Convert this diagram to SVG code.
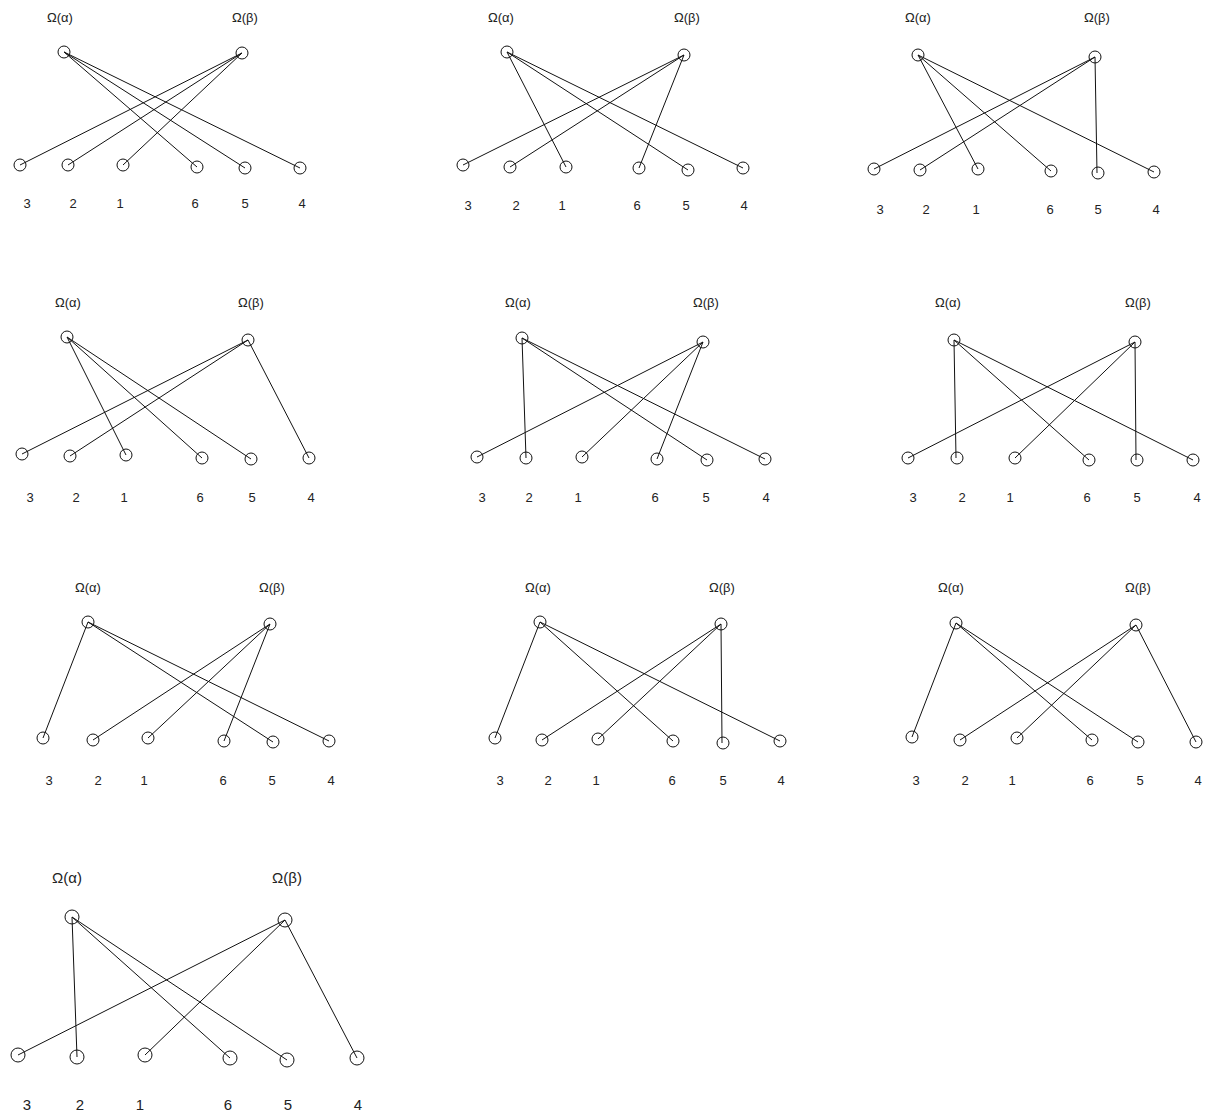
<svg xmlns="http://www.w3.org/2000/svg" width="1206" height="1113" viewBox="0 0 1206 1113">
<style>
.n{fill:none;stroke:#111;stroke-width:1}
.e{stroke:#111;stroke-width:1;fill:none}
.t{font-family:"Liberation Sans",Arial,sans-serif;font-size:13px;fill:#222;text-anchor:middle}
.big .t{font-size:15px}
</style>
<rect width="1206" height="1113" fill="#fff"/>

<!-- Panel 1 -->
<g id="p1">
<g id="p1-edges">
<line class="e" x1="64" y1="52" x2="197" y2="167"/><line class="e" x1="64" y1="52" x2="245" y2="168"/><line class="e" x1="64" y1="52" x2="300" y2="168"/>
<line class="e" x1="242" y1="53" x2="20" y2="165"/><line class="e" x1="242" y1="53" x2="68" y2="165"/><line class="e" x1="242" y1="53" x2="123" y2="165"/>
</g>
<g id="p1-a"><circle class="n" cx="64" cy="52" r="6"/><text class="t" x="60" y="22">Ω(α)</text></g>
<g id="p1-b"><circle class="n" cx="242" cy="53" r="6"/><text class="t" x="245" y="22">Ω(β)</text></g>
<g id="p1-3"><circle class="n" cx="20" cy="165" r="6"/><text class="t" x="27" y="208">3</text></g>
<g id="p1-2"><circle class="n" cx="68" cy="165" r="6"/><text class="t" x="73" y="208">2</text></g>
<g id="p1-1"><circle class="n" cx="123" cy="165" r="6"/><text class="t" x="120" y="208">1</text></g>
<g id="p1-6"><circle class="n" cx="197" cy="167" r="6"/><text class="t" x="195" y="208">6</text></g>
<g id="p1-5"><circle class="n" cx="245" cy="168" r="6"/><text class="t" x="245" y="208">5</text></g>
<g id="p1-4"><circle class="n" cx="300" cy="168" r="6"/><text class="t" x="302" y="208">4</text></g>
</g>

<!-- Panel 2 -->
<g id="p2">
<g id="p2-edges">
<line class="e" x1="507" y1="52" x2="566" y2="167"/><line class="e" x1="507" y1="52" x2="688" y2="170"/><line class="e" x1="507" y1="52" x2="743" y2="168"/>
<line class="e" x1="684" y1="55" x2="463" y2="165"/><line class="e" x1="684" y1="55" x2="510" y2="167"/><line class="e" x1="684" y1="55" x2="639" y2="168"/>
</g>
<g id="p2-a"><circle class="n" cx="507" cy="52" r="6"/><text class="t" x="501" y="22">Ω(α)</text></g>
<g id="p2-b"><circle class="n" cx="684" cy="55" r="6"/><text class="t" x="687" y="22">Ω(β)</text></g>
<g id="p2-3"><circle class="n" cx="463" cy="165" r="6"/><text class="t" x="468" y="210">3</text></g>
<g id="p2-2"><circle class="n" cx="510" cy="167" r="6"/><text class="t" x="516" y="210">2</text></g>
<g id="p2-1"><circle class="n" cx="566" cy="167" r="6"/><text class="t" x="562" y="210">1</text></g>
<g id="p2-6"><circle class="n" cx="639" cy="168" r="6"/><text class="t" x="637" y="210">6</text></g>
<g id="p2-5"><circle class="n" cx="688" cy="170" r="6"/><text class="t" x="686" y="210">5</text></g>
<g id="p2-4"><circle class="n" cx="743" cy="168" r="6"/><text class="t" x="744" y="210">4</text></g>
</g>

<!-- Panel 3 -->
<g id="p3">
<g id="p3-edges">
<line class="e" x1="918" y1="55" x2="978" y2="169"/><line class="e" x1="918" y1="55" x2="1051" y2="171"/><line class="e" x1="918" y1="55" x2="1154" y2="172"/>
<line class="e" x1="1095" y1="57" x2="874" y2="169"/><line class="e" x1="1095" y1="57" x2="920" y2="170"/><line class="e" x1="1095" y1="57" x2="1097" y2="173"/>
</g>
<g id="p3-a"><circle class="n" cx="918" cy="55" r="6"/><text class="t" x="918" y="22">Ω(α)</text></g>
<g id="p3-b"><circle class="n" cx="1095" cy="57" r="6"/><text class="t" x="1097" y="22">Ω(β)</text></g>
<g id="p3-3"><circle class="n" cx="874" cy="169" r="6"/><text class="t" x="880" y="214">3</text></g>
<g id="p3-2"><circle class="n" cx="920" cy="170" r="6"/><text class="t" x="926" y="214">2</text></g>
<g id="p3-1"><circle class="n" cx="978" cy="169" r="6"/><text class="t" x="976" y="214">1</text></g>
<g id="p3-6"><circle class="n" cx="1051" cy="171" r="6"/><text class="t" x="1050" y="214">6</text></g>
<g id="p3-5"><circle class="n" cx="1098" cy="173" r="6"/><text class="t" x="1098" y="214">5</text></g>
<g id="p3-4"><circle class="n" cx="1154" cy="172" r="6"/><text class="t" x="1156" y="214">4</text></g>
</g>

<!-- Panel 4 -->
<g id="p4">
<g id="p4-edges">
<line class="e" x1="67" y1="337" x2="126" y2="455"/><line class="e" x1="67" y1="337" x2="202" y2="458"/><line class="e" x1="67" y1="337" x2="251" y2="459"/>
<line class="e" x1="248" y1="340" x2="22" y2="454"/><line class="e" x1="248" y1="340" x2="70" y2="456"/><line class="e" x1="248" y1="340" x2="309" y2="458"/>
</g>
<g id="p4-a"><circle class="n" cx="67" cy="337" r="6"/><text class="t" x="68" y="307">Ω(α)</text></g>
<g id="p4-b"><circle class="n" cx="248" cy="340" r="6"/><text class="t" x="251" y="307">Ω(β)</text></g>
<g id="p4-3"><circle class="n" cx="22" cy="454" r="6"/><text class="t" x="30" y="502">3</text></g>
<g id="p4-2"><circle class="n" cx="70" cy="456" r="6"/><text class="t" x="76" y="502">2</text></g>
<g id="p4-1"><circle class="n" cx="126" cy="455" r="6"/><text class="t" x="124" y="502">1</text></g>
<g id="p4-6"><circle class="n" cx="202" cy="458" r="6"/><text class="t" x="200" y="502">6</text></g>
<g id="p4-5"><circle class="n" cx="251" cy="459" r="6"/><text class="t" x="252" y="502">5</text></g>
<g id="p4-4"><circle class="n" cx="309" cy="458" r="6"/><text class="t" x="311" y="502">4</text></g>
</g>

<!-- Panel 5 -->
<g id="p5">
<g id="p5-edges">
<line class="e" x1="522" y1="338" x2="526" y2="458"/><line class="e" x1="522" y1="338" x2="707" y2="460"/><line class="e" x1="522" y1="338" x2="765" y2="459"/>
<line class="e" x1="703" y1="342" x2="477" y2="457"/><line class="e" x1="703" y1="342" x2="582" y2="457"/><line class="e" x1="703" y1="342" x2="657" y2="459"/>
</g>
<g id="p5-a"><circle class="n" cx="522" cy="338" r="6"/><text class="t" x="518" y="307">Ω(α)</text></g>
<g id="p5-b"><circle class="n" cx="703" cy="342" r="6"/><text class="t" x="706" y="307">Ω(β)</text></g>
<g id="p5-3"><circle class="n" cx="477" cy="457" r="6"/><text class="t" x="482" y="502">3</text></g>
<g id="p5-2"><circle class="n" cx="526" cy="458" r="6"/><text class="t" x="529" y="502">2</text></g>
<g id="p5-1"><circle class="n" cx="582" cy="457" r="6"/><text class="t" x="578" y="502">1</text></g>
<g id="p5-6"><circle class="n" cx="657" cy="459" r="6"/><text class="t" x="655" y="502">6</text></g>
<g id="p5-5"><circle class="n" cx="707" cy="460" r="6"/><text class="t" x="706" y="502">5</text></g>
<g id="p5-4"><circle class="n" cx="765" cy="459" r="6"/><text class="t" x="766" y="502">4</text></g>
</g>

<!-- Panel 6 -->
<g id="p6">
<g id="p6-edges">
<line class="e" x1="954" y1="340" x2="956" y2="458"/><line class="e" x1="954" y1="340" x2="1089" y2="460"/><line class="e" x1="954" y1="340" x2="1193" y2="460"/>
<line class="e" x1="1135" y1="342" x2="908" y2="458"/><line class="e" x1="1135" y1="342" x2="1015" y2="458"/><line class="e" x1="1135" y1="342" x2="1136" y2="460"/>
</g>
<g id="p6-a"><circle class="n" cx="954" cy="340" r="6"/><text class="t" x="948" y="307">Ω(α)</text></g>
<g id="p6-b"><circle class="n" cx="1135" cy="342" r="6"/><text class="t" x="1138" y="307">Ω(β)</text></g>
<g id="p6-3"><circle class="n" cx="908" cy="458" r="6"/><text class="t" x="913" y="502">3</text></g>
<g id="p6-2"><circle class="n" cx="957" cy="458" r="6"/><text class="t" x="962" y="502">2</text></g>
<g id="p6-1"><circle class="n" cx="1015" cy="458" r="6"/><text class="t" x="1010" y="502">1</text></g>
<g id="p6-6"><circle class="n" cx="1089" cy="460" r="6"/><text class="t" x="1087" y="502">6</text></g>
<g id="p6-5"><circle class="n" cx="1137" cy="460" r="6"/><text class="t" x="1137" y="502">5</text></g>
<g id="p6-4"><circle class="n" cx="1193" cy="460" r="6"/><text class="t" x="1197" y="502">4</text></g>
</g>

<!-- Panel 7 -->
<g id="p7">
<g id="p7-edges">
<line class="e" x1="88" y1="622" x2="43" y2="738"/><line class="e" x1="88" y1="622" x2="273" y2="742"/><line class="e" x1="88" y1="622" x2="329" y2="741"/>
<line class="e" x1="270" y1="624" x2="93" y2="740"/><line class="e" x1="270" y1="624" x2="148" y2="738"/><line class="e" x1="270" y1="624" x2="224" y2="741"/>
</g>
<g id="p7-a"><circle class="n" cx="88" cy="622" r="6"/><text class="t" x="88" y="592">Ω(α)</text></g>
<g id="p7-b"><circle class="n" cx="270" cy="624" r="6"/><text class="t" x="272" y="592">Ω(β)</text></g>
<g id="p7-3"><circle class="n" cx="43" cy="738" r="6"/><text class="t" x="49" y="785">3</text></g>
<g id="p7-2"><circle class="n" cx="93" cy="740" r="6"/><text class="t" x="98" y="785">2</text></g>
<g id="p7-1"><circle class="n" cx="148" cy="738" r="6"/><text class="t" x="144" y="785">1</text></g>
<g id="p7-6"><circle class="n" cx="224" cy="741" r="6"/><text class="t" x="223" y="785">6</text></g>
<g id="p7-5"><circle class="n" cx="273" cy="742" r="6"/><text class="t" x="272" y="785">5</text></g>
<g id="p7-4"><circle class="n" cx="329" cy="741" r="6"/><text class="t" x="331" y="785">4</text></g>
</g>

<!-- Panel 8 -->
<g id="p8">
<g id="p8-edges">
<line class="e" x1="540" y1="622" x2="495" y2="738"/><line class="e" x1="540" y1="622" x2="673" y2="741"/><line class="e" x1="540" y1="622" x2="780" y2="741"/>
<line class="e" x1="721" y1="624" x2="542" y2="740"/><line class="e" x1="721" y1="624" x2="598" y2="739"/><line class="e" x1="721" y1="624" x2="722" y2="743"/>
</g>
<g id="p8-a"><circle class="n" cx="540" cy="622" r="6"/><text class="t" x="538" y="592">Ω(α)</text></g>
<g id="p8-b"><circle class="n" cx="721" cy="624" r="6"/><text class="t" x="722" y="592">Ω(β)</text></g>
<g id="p8-3"><circle class="n" cx="495" cy="738" r="6"/><text class="t" x="500" y="785">3</text></g>
<g id="p8-2"><circle class="n" cx="542" cy="740" r="6"/><text class="t" x="548" y="785">2</text></g>
<g id="p8-1"><circle class="n" cx="598" cy="739" r="6"/><text class="t" x="596" y="785">1</text></g>
<g id="p8-6"><circle class="n" cx="673" cy="741" r="6"/><text class="t" x="672" y="785">6</text></g>
<g id="p8-5"><circle class="n" cx="723" cy="743" r="6"/><text class="t" x="723" y="785">5</text></g>
<g id="p8-4"><circle class="n" cx="780" cy="741" r="6"/><text class="t" x="781" y="785">4</text></g>
</g>

<!-- Panel 9 -->
<g id="p9">
<g id="p9-edges">
<line class="e" x1="956" y1="623" x2="912" y2="737"/><line class="e" x1="956" y1="623" x2="1092" y2="740"/><line class="e" x1="956" y1="623" x2="1138" y2="742"/>
<line class="e" x1="1136" y1="625" x2="960" y2="740"/><line class="e" x1="1136" y1="625" x2="1017" y2="738"/><line class="e" x1="1136" y1="625" x2="1196" y2="742"/>
</g>
<g id="p9-a"><circle class="n" cx="956" cy="623" r="6"/><text class="t" x="951" y="592">Ω(α)</text></g>
<g id="p9-b"><circle class="n" cx="1136" cy="625" r="6"/><text class="t" x="1138" y="592">Ω(β)</text></g>
<g id="p9-3"><circle class="n" cx="912" cy="737" r="6"/><text class="t" x="916" y="785">3</text></g>
<g id="p9-2"><circle class="n" cx="960" cy="740" r="6"/><text class="t" x="965" y="785">2</text></g>
<g id="p9-1"><circle class="n" cx="1017" cy="738" r="6"/><text class="t" x="1012" y="785">1</text></g>
<g id="p9-6"><circle class="n" cx="1092" cy="740" r="6"/><text class="t" x="1090" y="785">6</text></g>
<g id="p9-5"><circle class="n" cx="1138" cy="742" r="6"/><text class="t" x="1140" y="785">5</text></g>
<g id="p9-4"><circle class="n" cx="1196" cy="742" r="6"/><text class="t" x="1198" y="785">4</text></g>
</g>

<!-- Panel 10 -->
<g id="p10" class="big">
<g id="p10-edges">
<line class="e" x1="72" y1="917" x2="77" y2="1057"/><line class="e" x1="72" y1="917" x2="230" y2="1058"/><line class="e" x1="72" y1="917" x2="287" y2="1060"/>
<line class="e" x1="285" y1="920" x2="18" y2="1055"/><line class="e" x1="285" y1="920" x2="145" y2="1055"/><line class="e" x1="285" y1="920" x2="357" y2="1058"/>
</g>
<g id="p10-a"><circle class="n" cx="72" cy="917" r="7"/><text class="t" x="67" y="883">Ω(α)</text></g>
<g id="p10-b"><circle class="n" cx="285" cy="920" r="7"/><text class="t" x="287" y="883">Ω(β)</text></g>
<g id="p10-3"><circle class="n" cx="18" cy="1055" r="7"/><text class="t" x="27" y="1110">3</text></g>
<g id="p10-2"><circle class="n" cx="77" cy="1057" r="7"/><text class="t" x="80" y="1110">2</text></g>
<g id="p10-1"><circle class="n" cx="145" cy="1055" r="7"/><text class="t" x="140" y="1110">1</text></g>
<g id="p10-6"><circle class="n" cx="230" cy="1058" r="7"/><text class="t" x="228" y="1110">6</text></g>
<g id="p10-5"><circle class="n" cx="287" cy="1060" r="7"/><text class="t" x="288" y="1110">5</text></g>
<g id="p10-4"><circle class="n" cx="357" cy="1058" r="7"/><text class="t" x="358" y="1110">4</text></g>
</g>
</svg>
